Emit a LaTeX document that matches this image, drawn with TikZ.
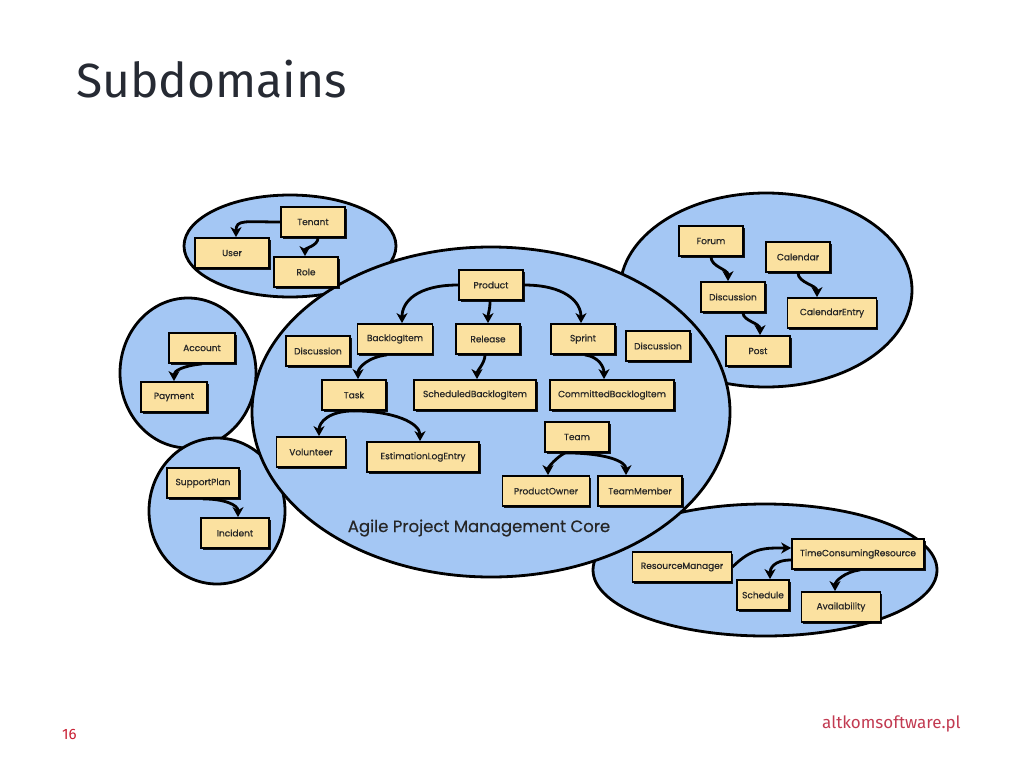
\documentclass[tikz,border=0pt]{standalone}
\usepackage{fontspec}
\setmainfont{Fira Sans}
\newfontfamily\boxfont{Poppins}[FakeBold=0.6]
\newfontfamily\labelfont{Poppins}[FakeBold=0.4]
\usetikzlibrary{shadows,arrows.meta}
\definecolor{ellfill}{RGB}{164,199,244}
\definecolor{boxfill}{RGB}{251,225,160}
\definecolor{titlecol}{RGB}{38,42,51}
\definecolor{pagered}{RGB}{200,30,50}
\definecolor{linkred}{RGB}{194,58,81}
\tikzset{
  dom/.style={draw=black, line width=2.8pt, fill=ellfill},
  ent/.style={draw=black, line width=1.8pt, fill=boxfill, minimum height=30pt,
    minimum width=64pt, inner xsep=8pt, inner ysep=0pt,
    font=\boxfont\fontsize{9}{10}\selectfont, text=black!85,
    drop shadow={shadow xshift=1.8pt, shadow yshift=-1.8pt, opacity=0.9, fill=black}},
  rel/.style={draw=black, line width=2.8pt, -{Stealth[length=10pt,width=11pt,inset=3pt]}},
}
\begin{document}
\begin{tikzpicture}[x=1pt,y=-1pt]
\useasboundingbox (0,0) rectangle (1024,768);
% title and footer
\node[anchor=base west, text=titlecol, inner sep=0pt, font=\fontsize{48}{56}\selectfont] (title) at (76,97) {Subdomains};
\node[anchor=base west, text=pagered, inner sep=0pt, font=\fontsize{15}{17}\selectfont] (pageno) at (62,739) {16};
\node[anchor=base west, text=linkred, inner sep=0pt, font=\fontsize{17}{20}\selectfont] (site) at (822,728) {altkomsoftware.pl};
% domains
\draw[dom] (290,246) ellipse [x radius=106, y radius=51];
\draw[dom] (188,373) ellipse [x radius=68, y radius=75];
\draw[dom] (217,511) ellipse [x radius=68, y radius=73];
\draw[dom] (766,290) ellipse [x radius=146, y radius=97];
\draw[dom] (765,570) ellipse [x radius=172, y radius=66];
\draw[dom] (491,412) ellipse [x radius=239, y radius=165];
\node[font=\labelfont\fontsize{16.5}{19}\selectfont, text=black!85] (corelabel) at (479,528) {Agile Project Management Core};
% identity
\node[ent] (tenant) at (313,222) {Tenant};
\node[ent, minimum width=74pt] (user) at (232,253) {User};
\node[ent] (role) at (306,272) {Role};
% payment
\node[ent, minimum width=66pt] (account) at (202,348) {Account};
\node[ent, minimum width=66pt] (payment) at (174,397) {Payment};
% support
\node[ent, minimum width=72pt] (support) at (203,483) {SupportPlan};
\node[ent, minimum width=68pt] (incident) at (235,533) {Incident};
% core
\node[ent] (product) at (491,285) {Product};
\node[ent, minimum width=75pt] (backlog) at (395,339) {BacklogItem};
\node[ent] (release) at (488,339) {Release};
\node[ent] (sprint) at (583,339) {Sprint};
\node[ent] (discA) at (318,351) {Discussion};
\node[ent] (discB) at (658,346) {Discussion};
\node[ent] (task) at (354,395) {Task};
\node[ent, minimum width=122pt] (sbi) at (475,395) {ScheduledBacklogItem};
\node[ent, minimum width=122pt] (cbi) at (612,395) {CommittedBacklogItem};
\node[ent, minimum width=69pt] (vol) at (311,452) {Volunteer};
\node[ent, minimum width=112pt] (ele) at (423,457) {EstimationLogEntry};
\node[ent] (team) at (577,437) {Team};
\node[ent, minimum width=87pt] (po) at (546,491) {ProductOwner};
\node[ent, minimum width=84pt] (tm) at (640,491) {TeamMember};
% collaboration
\node[ent] (forum) at (711,241) {Forum};
\node[ent] (calendar) at (798,257) {Calendar};
\node[ent] (discC) at (733,297) {Discussion};
\node[ent, minimum width=89pt] (calentry) at (832,313) {CalendarEntry};
\node[ent] (post) at (758,351) {Post};
% resources
\node[ent, minimum width=130pt] (tcr) at (858,554) {TimeConsumingResource};
\node[ent, minimum width=99pt] (rm) at (682,567) {ResourceManager};
\node[ent, minimum width=52pt, inner xsep=3pt] (schedule) at (763,595) {Schedule};
\node[ent, minimum width=79pt] (avail) at (841,607) {Availability};
% relations
\draw[rel] (tenant.west) .. controls +(-35,0) and +(0,-18) .. ([xshift=4pt]user.north);
\draw[rel] ([xshift=5pt]tenant.south) .. controls +(0,8) and +(0,-8) .. ([xshift=-1pt]role.north);
\draw[rel] (account.south) .. controls +(-20,2) and +(0,-10) .. (payment.north);
\draw[rel] (support.south) .. controls +(22,0) and +(0,-12) .. ([xshift=3pt]incident.north);
\draw[rel] (product.west) .. controls +(-40,0) and +(0,-22) .. ([xshift=7pt]backlog.north);
\draw[rel] ([xshift=-1pt]product.south) .. controls +(0,10) and +(0,-10) .. (release.north);
\draw[rel] (product.east) .. controls +(40,0) and +(0,-22) .. ([xshift=-2pt]sprint.north);
\draw[rel] ([xshift=-8pt]backlog.south) .. controls +(-18,2) and +(0,-12) .. ([xshift=4pt]task.north);
\draw[rel] ([xshift=-3pt]release.south) .. controls +(0,8) and +(0,-8) .. ([xshift=2pt]sbi.north);
\draw[rel] ([xshift=2pt]sprint.south) .. controls +(14,2) and +(0,-12) .. ([xshift=-8pt]cbi.north);
\draw[rel] (task.south) .. controls +(-25,0) and +(0,-14) .. ([xshift=8pt]vol.north);
\draw[rel] (task.south) .. controls +(40,0) and +(0,-18) .. ([xshift=-3pt]ele.north);
\draw[rel] ([xshift=-12pt]team.south) .. controls +(-8,4) and +(0,-8) .. ([xshift=2pt]po.north);
\draw[rel] ([xshift=-12pt]team.south) .. controls +(40,0) and +(0,-14) .. ([xshift=-14pt]tm.north);
\draw[rel] (forum.south) .. controls +(0,10) and +(0,-12) .. ([xshift=-5pt]discC.north);
\draw[rel] (calendar.south) .. controls +(0,10) and +(0,-12) .. ([xshift=-15pt]calentry.north);
\draw[rel] ([xshift=10pt]discC.south) .. controls +(0,8) and +(0,-12) .. ([xshift=2pt]post.north);
\draw[rel] (rm.east) .. controls +(20,-20) and +(-25,0) .. ([yshift=6pt]tcr.west);
\draw[rel] ([yshift=-6pt]tcr.west) .. controls +(-18,0) and +(0,-10) .. ([xshift=7pt]schedule.north);
\draw[rel] ([xshift=2pt]tcr.south) .. controls +(-15,2) and +(0,-10) .. ([xshift=-6pt]avail.north);
\end{tikzpicture}
\end{document}
